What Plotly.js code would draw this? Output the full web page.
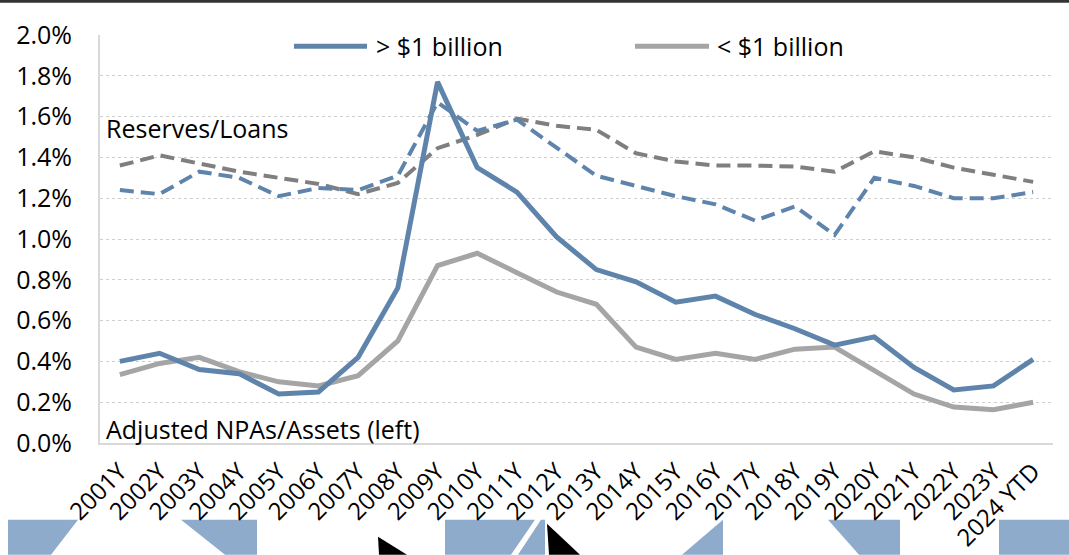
<!DOCTYPE html>
<html>
<head>
<meta charset="utf-8">
<script src="https://cdn.plot.ly/plotly-3.0.1.min.js"></script>
<style>
html,body{margin:0;padding:0;background:#fff;}
#chart{width:1069px;height:555px;}
</style>
</head>
<body>
<div id="chart"></div>
<script>
// ---- Data ----
const years = ["2001Y","2002Y","2003Y","2004Y","2005Y","2006Y","2007Y","2008Y","2009Y","2010Y","2011Y","2012Y","2013Y","2014Y","2015Y","2016Y","2017Y","2018Y","2019Y","2020Y","2021Y","2022Y","2023Y","2024 YTD"];
// Adjusted NPAs/Assets (%)
const npaLarge = [0.40,0.44,0.36,0.34,0.24,0.25,0.42,0.76,1.77,1.35,1.23,1.01,0.85,0.79,0.69,0.72,0.63,0.56,0.48,0.52,0.37,0.26,0.28,0.41];
const npaSmall = [0.335,0.39,0.42,0.35,0.30,0.28,0.33,0.50,0.87,0.93,0.835,0.74,0.68,0.47,0.41,0.44,0.41,0.46,0.47,0.355,0.24,0.176,0.163,0.20];
// Reserves/Loans (%)
const resLarge = [1.24,1.22,1.33,1.30,1.21,1.25,1.24,1.31,1.67,1.53,1.585,1.445,1.31,1.26,1.21,1.17,1.09,1.16,1.02,1.30,1.26,1.20,1.20,1.23];
const resSmall = [1.36,1.41,1.37,1.33,1.30,1.27,1.22,1.275,1.445,1.51,1.59,1.555,1.535,1.42,1.38,1.36,1.36,1.355,1.33,1.43,1.40,1.35,1.315,1.28];
const seriesNames = ["> $1 billion","< $1 billion"];
const yTicks = [0,0.2,0.4,0.6,0.8,1.0,1.2,1.4,1.6,1.8,2.0];

const pct = a => a.map(v => v/100);
const BLUE = "#5f84ab", GRAY = "#a5a5a5", DGRAY = "#7f7f7f", DECO = "#8eabcb";
const FONT = "'Open Sans', 'Noto Sans', sans-serif";

const traces = [
  {x: years, y: pct(resSmall), type: "scatter", mode: "lines", name: "Reserves < $1B", showlegend: false,
   line: {color: DGRAY, width: 4, dash: "14px,7px"}, hoverinfo: "skip"},
  {x: years, y: pct(resLarge), type: "scatter", mode: "lines", name: "Reserves > $1B", showlegend: false,
   line: {color: BLUE, width: 4, dash: "14px,7px"}, hoverinfo: "skip"},
  {x: years, y: pct(npaSmall), type: "scatter", mode: "lines", name: seriesNames[1], showlegend: false,
   line: {color: GRAY, width: 5}},
  {x: years, y: pct(npaLarge), type: "scatter", mode: "lines", name: seriesNames[0], showlegend: false,
   line: {color: BLUE, width: 5}}
];

// plot area in pixels: x 100..1053, y 35.3..443.3
const L = 100, R = 1053, T = 35.3, B = 443.3;
const px = v => (v - L) / (R - L);
const py = v => (B - v) / (B - T);
function poly(pts, color) {
  return {type: "path", xref: "paper", yref: "paper", layer: "below", line: {width: 0}, fillcolor: color,
    path: "M" + pts.map(p => px(p[0]) + "," + py(p[1])).join(" L") + " Z"};
}
const shapes = [
  // dark top band
  poly([[0,0],[1069,0],[1069,3],[0,3]], "#333333"),
  // decorative blocks along bottom
  poly([[8,520],[78,520],[51,555],[8,555]], DECO),
  poly([[181,520],[257,520],[257,555],[225,555]], DECO),
  poly([[445,520],[535,520],[511,555],[445,555]], DECO),
  poly([[541,520],[545,520],[545,555],[518,555]], DECO),
  poly([[723,520],[723,555],[682,555]], DECO),
  poly([[828,520],[900,520],[900,555],[859,555]], DECO),
  poly([[999,520],[1069,520],[1069,555],[1030,555],[999,555]], DECO),
  poly([[378,537],[407,555],[379,555]], "#000000"),
  poly([[547,524],[580,555],[549,555]], "#000000"),
  // legend samples
  {type: "line", xref: "paper", yref: "paper", x0: px(294), x1: px(367), y0: py(46.5), y1: py(46.5),
   line: {color: BLUE, width: 5}},
  {type: "line", xref: "paper", yref: "paper", x0: px(635), x1: px(709), y0: py(46.5), y1: py(46.5),
   line: {color: GRAY, width: 5}}
];

const annotations = [
  {xref: "paper", yref: "paper", x: px(374), y: py(46), xanchor: "left", yanchor: "middle", showarrow: false,
   text: seriesNames[0], font: {family: FONT, size: 25, color: "#000"}},
  {xref: "paper", yref: "paper", x: px(715), y: py(46), xanchor: "left", yanchor: "middle", showarrow: false,
   text: seriesNames[1], font: {family: FONT, size: 25, color: "#000"}},
  {xref: "paper", yref: "paper", x: px(104), y: py(128), xanchor: "left", yanchor: "middle", showarrow: false,
   text: "Reserves/Loans", font: {family: FONT, size: 25, color: "#000"}},
  {xref: "paper", yref: "paper", x: px(104), y: py(429), xanchor: "left", yanchor: "middle", showarrow: false,
   text: "Adjusted NPAs/Assets (left)", font: {family: FONT, size: 25, color: "#000"}}
];

const layout = {
  width: 1069, height: 555,
  margin: {l: L, r: 1069 - R, t: T, b: 555 - B, pad: 0},
  paper_bgcolor: "#ffffff", plot_bgcolor: "#ffffff",
  showlegend: false,
  font: {family: FONT, size: 24, color: "#000"},
  xaxis: {type: "category", range: [-0.5, years.length - 0.5], tickangle: -45,
    showgrid: false, showline: true, linecolor: "#d9d9d9", linewidth: 2, zeroline: false,
    ticks: "outside", ticklen: 3, tickcolor: "rgba(0,0,0,0)",
    tickfont: {family: FONT, size: 24, color: "#000"}},
  yaxis: {range: [0, 0.02], tickvals: yTicks.map(v => v/100), tickformat: ".1%",
    showgrid: true, gridcolor: "#cfcfcf", griddash: "dot", gridwidth: 1,
    showline: true, linecolor: "#d9d9d9", linewidth: 2, zeroline: false,
    ticks: "outside", ticklen: 21, tickcolor: "rgba(0,0,0,0)",
    tickfont: {family: FONT, size: 25, color: "#000"}},
  shapes: shapes,
  annotations: annotations
};

Plotly.newPlot("chart", traces, layout, {displayModeBar: false, staticPlot: true});
</script>
</body>
</html>
